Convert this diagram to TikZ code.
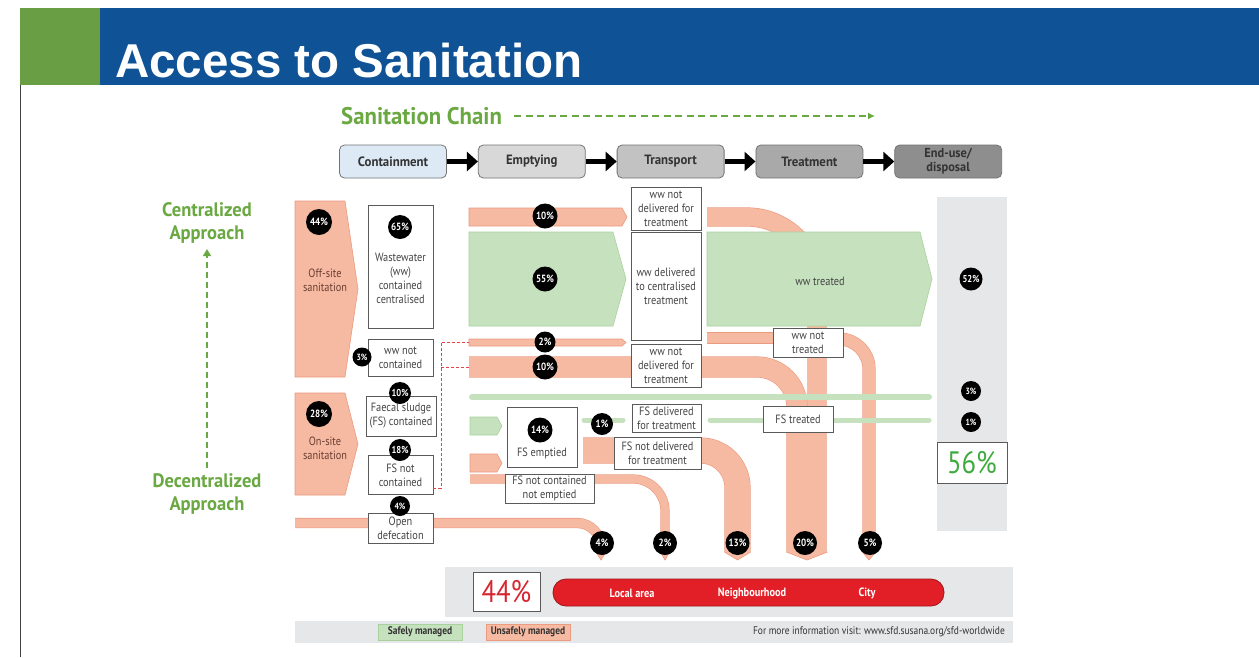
\documentclass[tikz,border=0pt]{standalone}
\usepackage{fontspec}
\setmainfont{PT Sans}
\newfontfamily\condfont[FakeStretch=0.86]{PT Sans}
\newfontfamily\headfont[FakeStretch=0.95]{PT Sans}
\newfontfamily\titlefont{Liberation Sans}
\usetikzlibrary{arrows.meta,positioning}
\definecolor{hdrblue}{HTML}{0F5396}
\definecolor{hdrgreen}{HTML}{6A9E45}
\definecolor{chaingreen}{HTML}{6AA842}
\definecolor{salmon}{HTML}{F6B9A1}
\definecolor{salmonedge}{HTML}{EB9B80}
\definecolor{leaf}{HTML}{C6E1BE}
\definecolor{leafedge}{HTML}{A8D29C}
\definecolor{boxline}{HTML}{5A5A5A}
\definecolor{boxtext}{HTML}{444444}
\definecolor{sitetext}{HTML}{6B3F33}
\definecolor{panelgray}{HTML}{E6E7E8}
\definecolor{cityred}{HTML}{E21F26}
\definecolor{totalgreen}{HTML}{3FAA3D}
\definecolor{totalred}{HTML}{D62630}
\definecolor{chainA}{HTML}{DDEAF6}
\definecolor{chainB}{HTML}{D8D8D8}
\definecolor{chainC}{HTML}{C2C2C2}
\definecolor{chainD}{HTML}{A9A9A9}
\definecolor{chainE}{HTML}{8E8E8E}

\begin{document}
\begin{tikzpicture}[x=1pt, y=-1pt,
    box/.style={draw=boxline, fill=white, line width=0.8pt, inner sep=0pt, align=center, text=boxtext, font=\condfont\fontsize{12}{14}\selectfont},
    boxtxt/.style={inner sep=0pt, align=center, text=boxtext, font=\condfont\fontsize{12}{14}\selectfont},
    sitetxt/.style={inner sep=0pt, align=center, text=sitetext, font=\condfont\fontsize{12}{14}\selectfont},
    pct/.style={circle, fill=black, text=white, inner sep=0pt, minimum size=#1, font=\condfont\bfseries\fontsize{10.5}{10.5}\selectfont},
    pct/.default=24pt,
    chainbox/.style={draw=black!55, rounded corners=5pt, minimum width=107pt, minimum height=33pt, inner sep=0pt, align=center, text=black!80, line width=0.8pt, font=\headfont\bfseries\fontsize{13.5}{14}\selectfont},
    flow/.style={line width=5pt, -{Triangle[length=11pt,width=19pt]}},
    approach/.style={inner sep=0pt, align=center, text=chaingreen, font=\headfont\bfseries\fontsize{19.5}{23}\selectfont},
    band/.style={line width=#1, draw=salmon, preaction={draw=salmonedge, line width=#1+1.2pt}},
    redlink/.style={draw=cityred!85, line width=0.9pt, dash pattern=on 3pt off 2pt},
    scaletxt/.style={inner sep=0pt, text=white, font=\condfont\bfseries\fontsize{12}{12}\selectfont},
    legend/.style={minimum width=84pt, minimum height=16pt, inner sep=0pt, line width=0.7pt, text=black!80, font=\condfont\bfseries\fontsize{11}{11}\selectfont},
]
    \useasboundingbox (0,0) rectangle (1259,657);
    \fill[white] (0,0) rectangle (1259,657);

    % Header bar
    \fill[hdrblue] (100,8) rectangle (1259,85);
    \fill[hdrgreen] (20,8) rectangle (100,85);
    \draw[black!75, line width=0.8pt] (20,85) -- (20,657);
    \node[anchor=base west, inner sep=0pt, text=white, font=\titlefont\bfseries\fontsize{47.5}{50}\selectfont] (title) at (115,77) {Access to Sanitation};

    % Sanitation chain
    \node[anchor=west, inner sep=0pt, text=chaingreen, font=\headfont\bfseries\fontsize{24}{26}\selectfont] (sanchain) at (341,116) {Sanitation Chain};
    \coordinate (chainend) at (875,116);
    \draw[chaingreen, line width=2pt, dash pattern=on 7pt off 4.5pt, shorten <=12pt, -{Latex[length=7pt,width=7pt]}] (sanchain) -- (chainend);

    \node[chainbox, fill=chainA] (containment) at (393,161.5) {Containment};
    \node[chainbox, fill=chainB, right=31pt of containment] (emptying) {Emptying};
    \node[chainbox, fill=chainC, right=31pt of emptying] (transport) {Transport};
    \node[chainbox, fill=chainD, right=31pt of transport] (treatment) {Treatment};
    \node[chainbox, fill=chainE, right=31pt of treatment, font=\headfont\bfseries\fontsize{13}{14}\selectfont] (enduse) {End-use/\\disposal};
    \draw[flow] (containment) -- (emptying);
    \draw[flow] (emptying) -- (transport);
    \draw[flow] (transport) -- (treatment);
    \draw[flow] (treatment) -- (enduse);

    % Approach axis
    \node[approach] (central) at (207,222.5) {Centralized\\Approach};
    \node[approach] (decentral) at (207,494.5) {Decentralized\\Approach};
    \draw[chaingreen, line width=2.5pt, dash pattern=on 6pt off 4pt, shorten <=6pt, shorten >=6pt, -{Triangle[length=7pt,width=8pt]}] (decentral) -- (central);

    % Grey panels
    \fill[panelgray] (937,197) rectangle (1007,531);
    \fill[panelgray] (445,567) rectangle (1013,617);
    \fill[panelgray] (295,621) rectangle (1013,643);

    % Unsafe flows
    \draw[band=9pt, rounded corners=24pt] (295,523) -- (601,523) -- (601,552);
    \draw[band=8pt, rounded corners=32pt] (470,479) -- (665,479) -- (665,552);
    \draw[band=25pt, rounded corners=37pt] (583,450.5) -- (737.5,450.5) -- (737.5,552);
    \draw[band=18pt, rounded corners=70pt] (707,217) -- (817,217) -- (817,552);
    \draw[band=20pt, rounded corners=40pt] (469,367) -- (797,367) -- (797,552);
    \draw[salmon, line width=20pt] (807,425) -- (807,552);
    \draw[band=12pt, rounded corners=30pt] (838,339) -- (869,339) -- (869,552);
    \draw[band=10pt] (707,338) -- (776,338);
    \foreach \bx/\bw in {601/9, 665/8, 737.5/25, 807/40, 869/12} {
        \fill[salmon] (\bx-\bw/2-0.6,552) -- (\bx,560) -- (\bx+\bw/2+0.6,552) -- cycle;
        \draw[salmonedge, line width=0.6pt] (\bx-\bw/2-0.6,552) -- (\bx,560) -- (\bx+\bw/2+0.6,552);
    }
    \filldraw[fill=salmon, draw=salmonedge, line width=0.6pt] (469,208) -- (622,208) -- (627,217) -- (622,226) -- (469,226) -- cycle;
    \filldraw[fill=salmon, draw=salmonedge, line width=0.6pt] (469,339) -- (622,339) -- (626,342.5) -- (622,346) -- (469,346) -- cycle;
    \filldraw[fill=salmon, draw=salmonedge, line width=0.6pt] (470,454) -- (497,454) -- (502,463) -- (497,472) -- (470,472) -- cycle;
    \filldraw[fill=salmon, draw=salmonedge, line width=0.6pt] (295,201) -- (345,201) -- (358,289) -- (345,377) -- (295,377) -- cycle;
    \filldraw[fill=salmon, draw=salmonedge, line width=0.6pt] (295,393) -- (345,393) -- (358,444) -- (345,495) -- (295,495) -- cycle;
    \node[sitetxt] (offsite) at (325,280) {Off-site\\sanitation};
    \node[sitetxt] (onsite) at (325,448) {On-site\\sanitation};

    % Safe flows
    \filldraw[fill=leaf, draw=leafedge, line width=0.6pt] (469,232) -- (613,232) -- (626,279) -- (613,326) -- (469,326) -- cycle;
    \filldraw[fill=leaf, draw=leafedge, line width=0.6pt] (707,232) -- (920,232) -- (932,279) -- (920,326) -- (707,326) -- cycle;
    \filldraw[fill=leaf, draw=leafedge, line width=0.6pt] (470,417) -- (497,417) -- (502,426) -- (497,435) -- (470,435) -- cycle;
    \draw[leaf, line width=6pt, line cap=round] (472,397) -- (929,397);
    \draw[leaf, line width=5pt, line cap=round] (584,420) -- (623,420);
    \draw[leaf, line width=5pt, line cap=round] (710,420) -- (929,420);
    \node[boxtxt] (wwtreated) at (820,281) {ww treated};

    % Containment boxes
    \node[box, minimum width=65pt, minimum height=123pt] (wwcont) at (400.5,266.5) {};
    \node[boxtxt] (wwconttxt) at (400.5,278) {Wastewater\\(ww)\\contained\\centralised};
    \node[box, minimum width=65pt, minimum height=37pt] (wwnot) at (400.5,357.5) {ww not\\contained};
    \node[box, minimum width=70pt, minimum height=40pt] (fscont) at (401,416) {Faecal sludge\\(FS) contained};
    \node[box, minimum width=65pt, minimum height=39pt] (fsnot) at (400.5,475) {FS not\\contained};
    \node[box, minimum width=65pt, minimum height=30pt] (opendef) at (400.5,528) {Open\\defecation};
    \draw[redlink] ([yshift=-13pt]fsnot.east) -| (441,342) -- (469,342);
    \draw[redlink] (441,367) -- (469,367);

    % Emptying and transport boxes
    \node[box, minimum width=70pt, minimum height=43pt] (notdeltop) at (666,208.5) {ww not\\delivered for\\treatment};
    \node[box, minimum width=70pt, minimum height=108pt] (delivered) at (666,286) {ww delivered\\to centralised\\treatment};
    \node[box, minimum width=70pt, minimum height=43pt] (notdellow) at (666,365.5) {ww not\\delivered for\\treatment};
    \node[box, minimum width=70pt, minimum height=60pt] (fsempt) at (542,437) {};
    \node[boxtxt] (fsempttxt) at (542,453) {FS emptied};
    \node[box, minimum width=89pt, minimum height=29pt] (fsnne) at (549.5,488.5) {FS not contained\\not emptied};
    \node[box, minimum width=69pt, minimum height=28pt] (fsdel) at (666.5,418) {FS delivered\\for treatment};
    \node[box, minimum width=87pt, minimum height=32pt] (fsnotdel) at (657.5,453) {FS not delivered\\for treatment};

    % Treatment boxes
    \node[box, minimum width=70pt, minimum height=29pt] (wwnottr) at (808,342.5) {ww not\\treated};
    \node[box, minimum width=70pt, minimum height=26pt] (fstr) at (798,419) {FS treated};
    \node[box, minimum width=70pt, minimum height=41pt, text=totalgreen, font=\condfont\fontsize{31}{31}\selectfont] (safetotal) at (972,462.5) {56\%};

    % Percentages
    \node[pct=26pt] (p44) at (319,222) {44\%};
    \node[pct=26pt] (p28) at (319,414) {28\%};
    \node[pct] (p65) at (400,227) {65\%};
    \node[pct=19pt, font=\condfont\bfseries\fontsize{9}{9}\selectfont] (p3ww) at (362,357) {3\%};
    \node[pct=22pt, font=\condfont\bfseries\fontsize{10}{10}\selectfont] (p10fs) at (400,393) {10\%};
    \node[pct=22pt, font=\condfont\bfseries\fontsize{10}{10}\selectfont] (p18) at (400,450) {18\%};
    \node[pct=20pt, font=\condfont\bfseries\fontsize{9}{9}\selectfont] (p4od) at (400,506) {4\%};
    \node[pct=25pt] (p10top) at (545,216) {10\%};
    \node[pct=25pt] (p55) at (545,279) {55\%};
    \node[pct=21pt] (p2) at (545,342) {2\%};
    \node[pct=25pt] (p10low) at (545,367) {10\%};
    \node[pct=25pt] (p14) at (540,430) {14\%};
    \node[pct=22pt] (p1fs) at (602,424) {1\%};
    \node[pct] (e4) at (602,543) {4\%};
    \node[pct] (e2) at (665,543) {2\%};
    \node[pct] (e13) at (737.5,543) {13\%};
    \node[pct] (e20) at (805,543) {20\%};
    \node[pct] (e5) at (870,543) {5\%};
    \node[pct=23pt, font=\condfont\bfseries\fontsize{10}{10}\selectfont] (t52) at (971,279) {52\%};
    \node[pct=20pt, font=\condfont\bfseries\fontsize{9}{9}\selectfont] (t3) at (971,391) {3\%};
    \node[pct=20pt, font=\condfont\bfseries\fontsize{9}{9}\selectfont] (t1) at (971,422) {1\%};

    % Unsafe total and reach
    \node[box, minimum width=67pt, minimum height=39pt, text=totalred, font=\condfont\fontsize{31}{31}\selectfont] (unsafetotal) at (506.5,591.5) {44\%};
    \node[draw=cityred!70!black, fill=cityred, rounded corners=13pt, minimum width=391pt, minimum height=27pt, inner sep=0pt, line width=0.8pt] (reach) at (748.5,592.5) {};
    \node[scaletxt] (local) at (632,593) {Local area};
    \node[scaletxt] (neighbour) at (752,593) {Neighbourhood};
    \node[scaletxt] (city) at (867,593) {City};

    % Legend
    \node[legend, fill=leaf, draw=leafedge] (safe) at (420,632) {Safely managed};
    \node[legend, fill=salmon, draw=salmonedge] (unsafe) at (528,632) {Unsafely managed};
    \node[anchor=east, inner sep=0pt, text=black!80, font=\condfont\fontsize{11}{11}\selectfont] (info) at (1005,632) {For more information visit: www.sfd.susana.org/sfd-worldwide};
\end{tikzpicture}
\end{document}
